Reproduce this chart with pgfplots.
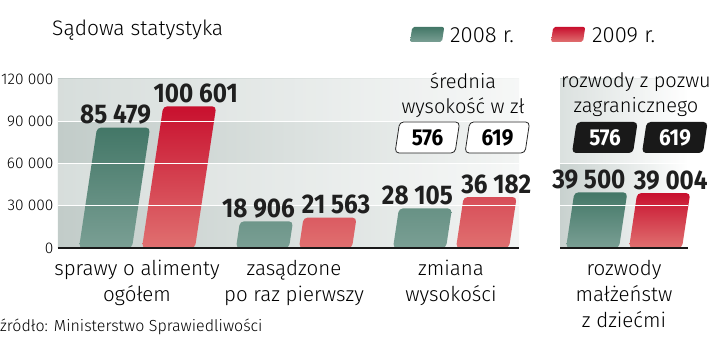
\documentclass[border=0pt]{standalone}
\usepackage{pgfplots}
\pgfplotsset{compat=1.18}
\usepackage{fontspec}
\setmainfont{Fira Sans}[UprightFont=* Light, BoldFont=* Bold]
\newfontfamily\lightf{Fira Sans}[UprightFont=* Light]
\newfontfamily\numf{Fira Sans}[UprightFont=* Bold, FakeStretch=0.9]
\definecolor{gtop}{HTML}{437767}
\definecolor{gbot}{HTML}{7A9F94}
\definecolor{rtop}{HTML}{C8102E}
\definecolor{rbot}{HTML}{E07070}
\definecolor{bgL}{HTML}{C2CCC9}
\definecolor{bgR}{HTML}{F2F4F3}
\begin{document}
\begin{tikzpicture}[x=1pt,y=1pt]
\path[use as bounding box] (0,0) rectangle (720,356);
% title
\node[anchor=west, font=\lightf\fontsize{21}{21}\selectfont, inner sep=0] at (52,326) {Sądowa statystyka};
% legend
\begin{scope}[shift={(410,314)}, xslant=0.15]
\path[top color=gtop, bottom color=gbot, rounded corners=2pt] (0,0) rectangle (32,15);
\end{scope}
\node[anchor=west, font=\lightf\fontsize{22}{22}\selectfont, inner sep=0] at (450,321) {2008 r.};
\begin{scope}[shift={(551,314)}, xslant=0.15]
\path[top color=rtop, bottom color=rbot, rounded corners=2pt] (0,0) rectangle (32,15);
\end{scope}
\node[anchor=west, font=\lightf\fontsize{22}{22}\selectfont, inner sep=0] at (592,321) {2009 r.};

\begin{axis}[
  at={(58pt,108pt)}, anchor=south west, scale only axis,
  width=461pt, height=169pt,
  xmin=-0.503, xmax=2.433, ymin=0, ymax=120000,
  ybar=10pt, bar width=53pt,
  axis line style={draw=none},
  major tick length=0pt,
  ytick={0,30000,60000,90000,120000},
  yticklabels={0,30 000,60 000,90 000,120 000},
  yticklabel style={font=\lightf\fontsize{15.5}{15.5}\selectfont, anchor=east, xshift=-1pt},
  xtick={0,1,2},
  xticklabels={{sprawy o alimenty\\ogółem},{zasądzone\\po raz pierwszy},{zmiana\\wysokości}},
  xticklabel style={font=\lightf\fontsize{20.5}{26}\selectfont, align=center, anchor=north, yshift=-9pt},
  axis background/.style={left color=bgL, right color=bgR},
  scaled y ticks=false,
  clip=false,
  point meta=explicit symbolic,
  nodes near coords,
  every node near coord/.append style={font=\numf\fontsize{27}{27}\selectfont, anchor=south, inner sep=1pt, yshift=2pt, text=black!88},
]
\fill[white, opacity=0.35] (rel axis cs:0,0.25) rectangle (rel axis cs:1,0.5);
\fill[white, opacity=0.35] (rel axis cs:0,0.75) rectangle (rel axis cs:1,1);
\addplot[xslant=0.15, draw=none, top color=gtop, bottom color=gbot, rounded corners=4pt,
  every node near coord/.append style={xshift=-8pt}]
  coordinates {(0,85479) [85 479] (1,18906) [18 906] (2,28105) [28 105]};
\addplot[xslant=0.15, draw=none, top color=rtop, bottom color=rbot, rounded corners=4pt,
  every node near coord/.append style={xshift=6pt}]
  coordinates {(0,100601) [100 601] (1,21563) [21 563] (2,36182) [36 182]};
\draw[white, line width=1.3pt] (rel axis cs:0,0.25) -- (rel axis cs:1,0.25);
\draw[white, line width=1.3pt] (rel axis cs:0,0.5) -- (rel axis cs:1,0.5);
\draw[white, line width=1.3pt] (rel axis cs:0,0.75) -- (rel axis cs:1,0.75);
\draw[black!90, line width=2pt] (rel axis cs:0,0) -- (rel axis cs:1,0);
\end{axis}

\begin{axis}[
  at={(560pt,108pt)}, anchor=south west, scale only axis,
  width=128pt, height=169pt,
  xmin=-0.408, xmax=0.408, ymin=0, ymax=120000,
  ybar=10pt, bar width=53pt,
  axis line style={draw=none},
  major tick length=0pt,
  ytick=\empty,
  xtick={0},
  xticklabels={{rozwody\\małżeństw\\z dziećmi}},
  xticklabel style={font=\lightf\fontsize{20.5}{26}\selectfont, align=center, anchor=north, yshift=-9pt},
  axis background/.style={left color=bgL!90!white, right color=white},
  clip=false,
  point meta=explicit symbolic,
  nodes near coords,
  every node near coord/.append style={font=\numf\fontsize{27}{27}\selectfont, anchor=south, inner sep=1pt, yshift=2pt, text=black!88},
]
\fill[white, opacity=0.35] (rel axis cs:0,0.5) rectangle (rel axis cs:1,1);
\addplot[xslant=0.15, draw=none, top color=gtop, bottom color=gbot, rounded corners=4pt,
  every node near coord/.append style={xshift=-12pt}]
  coordinates {(0,39500) [39 500]};
\addplot[xslant=0.15, draw=none, top color=rtop, bottom color=rbot, rounded corners=4pt,
  every node near coord/.append style={xshift=7pt}]
  coordinates {(0,39004) [39 004]};
\draw[white, line width=1.3pt] (rel axis cs:0,0.25) -- (rel axis cs:1,0.25);
\draw[white, line width=1.3pt] (rel axis cs:0,0.5) -- (rel axis cs:1,0.5);
\draw[black!90, line width=2pt] (rel axis cs:0,0) -- (rel axis cs:1,0);
\end{axis}

% average amount boxes
\node[align=center, font=\lightf\fontsize{20}{25}\selectfont, inner sep=0] at (463,261) {średnia\\wysokość w zł};
\begin{scope}[shift={(395,203)}, xslant=0.15]
\path[draw=black!85, fill=white, line width=0.8pt, rounded corners=4pt] (0,0) rectangle (60,31);
\path[draw=black!85, fill=white, line width=0.8pt, rounded corners=4pt] (70,0) rectangle (130,31);
\end{scope}
\node[font=\numf\fontsize{23}{23}\selectfont] at (427.5,218.5) {576};
\node[font=\numf\fontsize{23}{23}\selectfont] at (497.5,218.5) {619};
\node[align=center, font=\lightf\fontsize{20}{25}\selectfont, inner sep=0] at (636,261) {rozwody z pozwu\\zagranicznego};
\begin{scope}[shift={(572,203)}, xslant=0.15]
\path[fill=black!90, rounded corners=4pt] (0,0) rectangle (61,31);
\path[fill=black!90, rounded corners=4pt] (70,0) rectangle (131,31);
\end{scope}
\node[font=\numf\fontsize{23}{23}\selectfont, text=white] at (605,218.5) {576};
\node[font=\numf\fontsize{23}{23}\selectfont, text=white] at (675,218.5) {619};
% source
\node[anchor=west, font=\lightf\fontsize{16}{16}\selectfont, inner sep=0] at (0,29) {źródło: Ministerstwo Sprawiedliwości};
\end{tikzpicture}
\end{document}
